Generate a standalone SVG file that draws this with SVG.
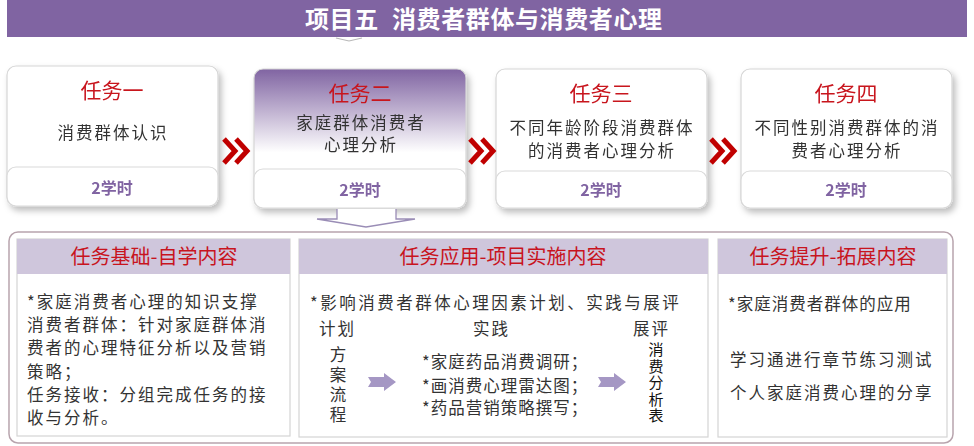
<svg xmlns="http://www.w3.org/2000/svg" width="974" height="446" viewBox="0 0 974 446">
<style>
.cjk{font-family:"Noto Sans CJK SC","Noto Sans",sans-serif}
.task{font-size:21px;fill:#C8141E;text-anchor:middle}
.desc{font-size:16.5px;fill:#333;text-anchor:middle;letter-spacing:2px}
.hrs{font-size:16px;font-weight:bold;fill:#8064A2;text-anchor:middle}
.card{fill:#fff;stroke:#D6D6D6;stroke-width:1.2}
.foot{fill:#fff;stroke:#D9D9D9;stroke-width:1.2}
.chev{fill:none;stroke:#C00000;stroke-width:5;stroke-linejoin:miter}
.ph{fill:#CFC6DC}
.pbody{fill:#fff;stroke:#D4D4D4;stroke-width:1.2}
.ptitle{font-size:20px;fill:#C8141E;text-anchor:middle}
.body{font-size:16.5px;fill:#333;letter-spacing:2px}
.barrow{fill:#A597C4}
.vt{font-size:15px;fill:#111;writing-mode:vertical-rl;letter-spacing:1.5px}
.vt2{font-size:16.5px;fill:#333;writing-mode:vertical-rl;letter-spacing:3.5px}
</style>
<defs>
<filter id="sh" x="-10%" y="-10%" width="125%" height="130%">
<feDropShadow dx="3" dy="4" stdDeviation="3" flood-color="#000" flood-opacity="0.25"/>
</filter>
<linearGradient id="g2" x1="0" y1="0" x2="0" y2="1">
<stop offset="0" stop-color="#8064A2"/>
<stop offset="0.6" stop-color="#fff"/>
</linearGradient>
</defs>

<g id="title">
<rect x="7" y="0" width="960" height="37" fill="#8064A2"/>
<text class="cjk" y="28" font-size="24" font-weight="bold" fill="#fff" letter-spacing="0.6"><tspan x="305">项目五</tspan><tspan x="392">消费者群体与消费者心理</tspan></text>
<polyline points="336,38 349,41 362,38" fill="none" stroke="#B8B8B8" stroke-width="1.2"/>
</g>

<g id="task1" filter="url(#sh)">
<rect class="card" x="7" y="66" width="211" height="140" rx="9"/>
<rect class="foot" x="7" y="167" width="211" height="39" rx="9"/>
<text class="cjk task" x="112" y="98">任务一</text>
<text class="cjk desc" x="113" y="139">消费群体认识</text>
<text class="cjk hrs" x="112" y="194">2学时</text>
</g>

<g id="task2" filter="url(#sh)">
<rect x="254" y="69" width="212" height="139" rx="9" fill="url(#g2)" stroke="#D6D6D6" stroke-width="1.2"/>
<rect class="foot" x="254" y="169" width="212" height="39" rx="9"/>
<text class="cjk task" x="360" y="101">任务二</text>
<text class="cjk desc" x="361" y="129">家庭群体消费者</text>
<text class="cjk desc" x="361" y="151">心理分析</text>
<text class="cjk hrs" x="360" y="196">2学时</text>
</g>

<g id="task3" filter="url(#sh)">
<rect class="card" x="496" y="69" width="211" height="139" rx="9"/>
<rect class="foot" x="496" y="171" width="211" height="37" rx="9"/>
<text class="cjk task" x="601" y="101">任务三</text>
<text class="cjk desc" x="602" y="134">不同年龄阶段消费群体</text>
<text class="cjk desc" x="602" y="157">的消费者心理分析</text>
<text class="cjk hrs" x="601" y="196">2学时</text>
</g>

<g id="task4" filter="url(#sh)">
<rect class="card" x="741" y="69" width="211" height="139" rx="9"/>
<rect class="foot" x="741" y="171" width="211" height="37" rx="9"/>
<text class="cjk task" x="846" y="101">任务四</text>
<text class="cjk desc" x="847" y="134">不同性别消费群体的消</text>
<text class="cjk desc" x="847" y="157">费者心理分析</text>
<text class="cjk hrs" x="846" y="196">2学时</text>
</g>

<g id="connectors">
<polyline class="chev" points="224,139 235,151 224,163"/>
<polyline class="chev" points="236,139 247,151 236,163"/>
<polyline class="chev" points="470,139 481,151 470,163"/>
<polyline class="chev" points="482,139 493,151 482,163"/>
<polyline class="chev" points="711,139 722,151 711,163"/>
<polyline class="chev" points="723,139 734,151 723,163"/>
<path d="M337,209 V219 H317 L366,227 L415,219 H396 V209" fill="#fff" stroke="#9A8DB6" stroke-width="1.3"/>
</g>

<g id="container">
<rect x="9" y="232" width="944" height="211" rx="9" fill="#fff" stroke="#B8A4AD" stroke-width="1.5"/>
</g>

<g id="panel1">
<rect class="pbody" x="17" y="239" width="273" height="197"/>
<rect class="ph" x="17" y="239" width="273" height="35"/>
<text class="cjk ptitle" x="154" y="264">任务基础-自学内容</text>
<text class="cjk body" x="27" y="308">*家庭消费者心理的知识支撑</text>
<text class="cjk body" x="27" y="331">消费者群体：针对家庭群体消</text>
<text class="cjk body" x="27" y="354">费者的心理特征分析以及营销</text>
<text class="cjk body" x="27" y="378">策略；</text>
<text class="cjk body" x="27" y="401">任务接收：分组完成任务的接</text>
<text class="cjk body" x="27" y="424">收与分析。</text>
</g>

<g id="panel2">
<rect class="pbody" x="299" y="239" width="409" height="198"/>
<rect class="ph" x="299" y="239" width="409" height="35"/>
<text class="cjk ptitle" x="503" y="264">任务应用-项目实施内容</text>
<text class="cjk body" x="310" y="309" style="letter-spacing:2.5px">*影响消费者群体心理因素计划、实践与展评</text>
<text class="cjk body" x="319" y="335">计划</text>
<text class="cjk body" x="473" y="335">实践</text>
<text class="cjk body" x="633" y="335">展评</text>
<text class="cjk vt2" x="338" y="346">方案流程</text>
<path class="barrow" d="M368,377 H384 V373 L396,382 L384,391 V387 H368 L371,382 Z"/>
<text class="cjk body" x="422" y="368" style="letter-spacing:1px">*家庭药品消费调研；</text>
<text class="cjk body" x="422" y="392" style="letter-spacing:1px">*画消费心理雷达图；</text>
<text class="cjk body" x="422" y="414" style="letter-spacing:1px">*药品营销策略撰写；</text>
<path class="barrow" d="M598,377 H614 V373 L626,382 L614,391 V387 H598 L601,382 Z"/>
<text class="cjk vt" x="656" y="342">消费分析表</text>
</g>

<g id="panel3">
<rect class="pbody" x="718" y="239" width="229" height="198"/>
<rect class="ph" x="718" y="239" width="229" height="35"/>
<text class="cjk ptitle" x="833" y="264">任务提升-拓展内容</text>
<text class="cjk body" x="728" y="310" style="letter-spacing:1px">*家庭消费者群体的应用</text>
<text class="cjk body" x="730" y="366">学习通进行章节练习测试</text>
<text class="cjk body" x="730" y="399">个人家庭消费心理的分享</text>
</g>
</svg>
